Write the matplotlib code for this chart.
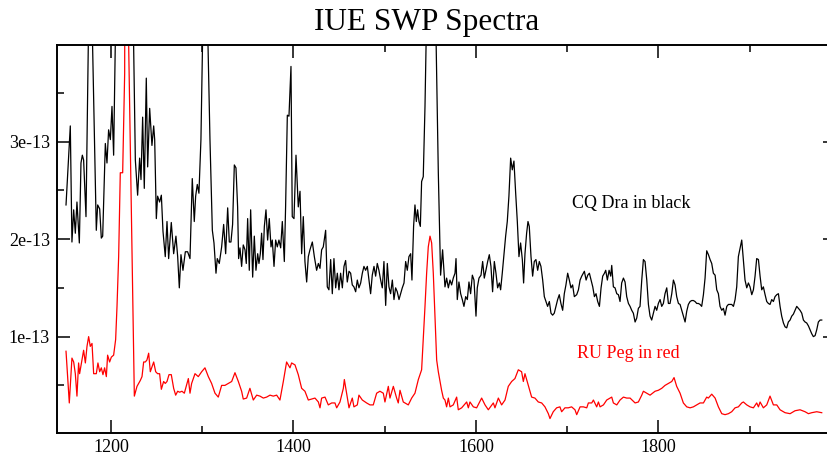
import matplotlib
matplotlib.use("Agg")
import matplotlib.pyplot as plt
from matplotlib.ticker import FixedLocator, FuncFormatter

# CQ Dra (black) - wavelength in Angstrom, flux in 1e-13 units
cq_wave = [1150.7, 1155.4, 1157.2, 1159.1, 1160.9, 1162.7, 1165.3, 1167.1, 1168.6, 1170.0,
           1172.6, 1177.0, 1183.9, 1185.4, 1187.6, 1189.4, 1190.9, 1193.8, 1195.6, 1197.4,
           1199.3, 1201.1, 1202.9, 1205.5, 1215.5, 1224.0, 1226.7, 1229.2, 1231.4, 1232.9,
           1234.7, 1236.5, 1238.7, 1240.2, 1242.4, 1244.9, 1246.8, 1247.9, 1249.7, 1251.1,
           1253.3, 1255.2, 1257.0, 1259.5, 1261.4, 1263.2, 1266.1, 1268.7, 1271.2, 1273.1,
           1274.9, 1276.7, 1278.9, 1281.5, 1284.0, 1286.6, 1289.1, 1291.3, 1292.8, 1294.6,
           1296.4, 1298.6, 1303.0, 1308.5, 1311.1, 1312.9, 1315.1, 1316.5, 1318.7, 1321.3,
           1323.5, 1325.7, 1327.9, 1329.7, 1331.5, 1333.3, 1335.2, 1337.0, 1338.8, 1339.9,
           1341.4, 1343.2, 1345.0, 1346.9, 1348.3, 1349.8, 1351.6, 1353.1, 1355.3, 1357.1,
           1358.9, 1360.8, 1362.2, 1363.7, 1365.1, 1366.6, 1368.1, 1369.9, 1371.7, 1373.5,
           1375.4, 1376.8, 1378.7, 1380.5, 1382.3, 1384.1, 1386.0, 1387.8, 1390.0, 1391.4,
           1393.3, 1395.1, 1397.3, 1398.7, 1400.6, 1402.8, 1405.3, 1407.2, 1409.0, 1410.8,
           1412.6, 1414.5, 1416.3, 1418.1, 1420.7, 1422.9, 1425.4, 1427.3, 1429.1, 1430.9,
           1432.7, 1435.3, 1437.1, 1438.9, 1440.8, 1442.6, 1444.4, 1446.3, 1448.1, 1449.9,
           1451.7, 1453.6, 1455.4, 1457.2, 1459.0, 1460.9, 1462.7, 1464.5, 1466.3, 1468.2,
           1470.0, 1471.8, 1473.7, 1475.5, 1477.3, 1479.1, 1481.0, 1482.8, 1484.6, 1486.4,
           1488.3, 1490.1, 1491.9, 1493.7, 1495.6, 1497.4, 1499.2, 1501.1, 1502.9, 1504.7,
           1506.5, 1508.4, 1510.2, 1512.0, 1513.8, 1515.7, 1517.5, 1519.3, 1521.2, 1523.0,
           1524.8, 1526.6, 1528.5, 1529.9, 1531.7, 1533.2, 1534.7, 1536.1, 1537.6, 1539.1,
           1540.5, 1542.3, 1544.2, 1551.0, 1558.8, 1561.3, 1563.5, 1566.1, 1567.9, 1569.8,
           1571.6, 1573.4, 1575.2, 1577.1, 1578.2, 1579.6, 1581.4, 1583.3, 1585.1, 1586.9,
           1588.8, 1590.6, 1592.4, 1594.2, 1596.1, 1597.9, 1600.1, 1601.5, 1603.4, 1605.6,
           1607.4, 1609.2, 1611.0, 1612.9, 1614.7, 1616.5, 1618.3, 1620.2, 1622.0, 1623.8,
           1625.7, 1627.1, 1628.9, 1630.8, 1632.6, 1634.4, 1636.2, 1638.1, 1639.9, 1641.7,
           1643.6, 1645.4, 1647.2, 1649.0, 1650.9, 1652.3, 1653.8, 1655.6, 1657.1, 1658.5,
           1660.4, 1662.2, 1664.0, 1665.8, 1667.7, 1669.5, 1671.3, 1673.2, 1675.0, 1676.8,
           1678.6, 1680.5, 1682.3, 1684.1, 1685.9, 1687.8, 1689.6, 1691.4, 1693.2, 1695.1,
           1696.9, 1698.7, 1700.6, 1702.4, 1704.2, 1706.0, 1707.9, 1710.5, 1712.4, 1714.2,
           1716.0, 1717.8, 1718.9, 1720.8, 1722.6, 1724.4, 1726.2, 1728.1, 1729.9, 1731.7,
           1733.5, 1735.4, 1737.2, 1739.0, 1740.9, 1742.3, 1744.1, 1746.0, 1747.8, 1748.9,
           1750.7, 1752.5, 1754.4, 1756.2, 1758.0, 1759.8, 1761.7, 1763.5, 1765.3, 1767.2,
           1769.0, 1770.8, 1772.6, 1774.5, 1776.3, 1778.1, 1779.9, 1781.8, 1783.6, 1785.4,
           1787.3, 1789.1, 1790.9, 1792.7, 1794.6, 1796.4, 1798.2, 1800.0, 1801.9, 1803.7,
           1805.5, 1807.3, 1809.2, 1811.0, 1812.8, 1814.7, 1816.5, 1818.3, 1820.1, 1822.0,
           1823.8, 1825.6, 1827.4, 1829.3, 1831.1, 1832.9, 1834.8, 1836.6, 1838.4, 1840.2,
           1842.1, 1843.9, 1845.7, 1847.5, 1849.4, 1851.2, 1853.0, 1854.9, 1856.7, 1858.5,
           1860.3, 1862.2, 1864.0, 1865.8, 1867.6, 1869.5, 1871.3, 1873.1, 1875.0, 1876.8,
           1878.6, 1880.4, 1882.3, 1884.1, 1885.9, 1887.7, 1889.6, 1891.4, 1893.2, 1895.0,
           1896.9, 1898.7, 1900.5, 1902.4, 1904.2, 1906.0, 1907.8, 1909.7, 1911.5, 1913.3,
           1915.1, 1917.0, 1918.8, 1920.6, 1922.4, 1924.3, 1926.1, 1927.9, 1929.8, 1931.6,
           1933.4, 1935.2, 1937.1, 1938.9, 1940.7, 1942.5, 1944.4, 1946.2, 1948.0, 1949.8,
           1951.7, 1953.5, 1955.3, 1957.2, 1959.0, 1960.8, 1962.6, 1964.5, 1966.3, 1968.1,
           1969.9, 1971.8, 1973.6, 1975.4, 1977.3, 1979.1]
cq_flux = [2.35, 3.16, 1.97, 2.30, 2.06, 2.38, 1.96, 2.78, 2.86, 2.81,
           2.23, 5.30, 2.09, 2.35, 2.31, 2.01, 2.03, 2.98, 2.78, 3.12,
           3.02, 3.36, 2.86, 4.50, 12.0, 4.50, 2.81, 2.45, 2.83, 2.61,
           3.25, 2.52, 3.65, 2.74, 3.34, 2.96, 3.16, 3.02, 2.21, 2.44,
           2.38, 2.45, 2.08, 1.82, 2.18, 1.80, 2.17, 1.85, 2.03, 1.82,
           1.50, 1.84, 1.68, 1.87, 1.87, 1.80, 2.62, 2.18, 2.44, 2.56,
           2.47, 3.02, 5.50, 3.02, 2.09, 1.96, 1.65, 1.80, 1.75, 1.92,
           2.15, 1.85, 2.32, 1.97, 1.97, 2.15, 2.76, 2.73, 2.33, 1.80,
           1.91, 1.72, 1.94, 1.89, 1.75, 2.21, 1.68, 2.30, 1.61, 2.03,
           1.68, 1.85, 1.75, 1.85, 2.06, 1.79, 2.13, 2.30, 1.99, 2.21,
           1.92, 1.99, 1.72, 1.99, 1.92, 1.99, 1.91, 2.18, 1.77, 2.33,
           3.27, 3.26, 3.77, 2.23, 2.21, 2.86, 2.33, 2.49, 1.85, 2.23,
           1.77, 1.56, 1.82, 1.89, 1.97, 1.82, 1.68, 1.75, 1.70, 1.89,
           1.92, 2.09, 1.51, 1.48, 1.79, 1.44, 1.80, 1.50, 1.65, 1.48,
           1.65, 1.50, 1.72, 1.78, 1.56, 1.67, 1.65, 1.53, 1.51, 1.46,
           1.58, 1.50, 1.55, 1.65, 1.72, 1.68, 1.72, 1.58, 1.44, 1.63,
           1.72, 1.62, 1.75, 1.68, 1.58, 1.50, 1.77, 1.32, 1.75, 1.51,
           1.44, 1.58, 1.38, 1.50, 1.46, 1.38, 1.44, 1.50, 1.55, 1.77,
           1.68, 1.82, 1.85, 1.58, 2.13, 2.35, 2.18, 2.30, 2.18, 2.13,
           2.59, 2.64, 3.36, 7.00, 2.68, 1.63, 1.89, 1.51, 1.60, 1.50,
           1.58, 1.53, 1.60, 1.65, 1.80, 1.38, 1.56, 1.44, 1.38, 1.31,
           1.41, 1.38, 1.56, 1.44, 1.63, 1.58, 1.21, 1.50, 1.60, 1.63,
           1.77, 1.60, 1.68, 1.77, 1.84, 1.72, 1.46, 1.77, 1.65, 1.50,
           1.55, 1.48, 1.65, 1.85, 2.03, 2.18, 2.44, 2.83, 2.71, 2.80,
           2.47, 2.18, 1.82, 1.96, 1.79, 1.55, 1.85, 2.06, 2.18, 2.13,
           1.82, 1.62, 1.77, 1.79, 1.68, 1.77, 1.72, 1.58, 1.41, 1.36,
           1.31, 1.36, 1.24, 1.22, 1.24, 1.31, 1.38, 1.43, 1.34, 1.27,
           1.44, 1.53, 1.65, 1.58, 1.50, 1.53, 1.41, 1.43, 1.48, 1.58,
           1.62, 1.65, 1.67, 1.58, 1.63, 1.65, 1.58, 1.51, 1.41, 1.44,
           1.36, 1.31, 1.50, 1.62, 1.65, 1.68, 1.58, 1.68, 1.62, 1.73,
           1.51, 1.50, 1.44, 1.43, 1.36, 1.55, 1.60, 1.56, 1.41, 1.34,
           1.31, 1.27, 1.24, 1.15, 1.19, 1.29, 1.31, 1.58, 1.79, 1.77,
           1.58, 1.33, 1.21, 1.17, 1.24, 1.31, 1.27, 1.34, 1.38, 1.31,
           1.34, 1.44, 1.50, 1.34, 1.34, 1.44, 1.58, 1.53, 1.41, 1.34,
           1.33, 1.27, 1.21, 1.15, 1.26, 1.33, 1.36, 1.37, 1.37, 1.36,
           1.34, 1.34, 1.33, 1.31, 1.43, 1.60, 1.88, 1.84, 1.79, 1.75,
           1.65, 1.63, 1.48, 1.44, 1.31, 1.27, 1.29, 1.22, 1.31, 1.33,
           1.33, 1.33, 1.31, 1.38, 1.51, 1.82, 1.91, 1.99, 1.79, 1.58,
           1.50, 1.55, 1.51, 1.43, 1.48, 1.62, 1.80, 1.79, 1.62, 1.48,
           1.51, 1.43, 1.36, 1.34, 1.33, 1.38, 1.36, 1.41, 1.43, 1.44,
           1.31, 1.21, 1.14, 1.10, 1.09, 1.15, 1.17, 1.21, 1.23, 1.27,
           1.31, 1.29, 1.27, 1.24, 1.17, 1.15, 1.14, 1.11, 1.07, 1.03,
           1.00, 1.01, 1.07, 1.15, 1.17, 1.17]

# RU Peg (red)
ru_wave = [1150.7, 1154.3, 1157.2, 1159.1, 1160.9, 1162.7, 1164.5, 1165.6, 1168.2, 1170.0,
           1171.9, 1173.7, 1175.5, 1177.3, 1179.2, 1181.0, 1183.9, 1185.7, 1187.6, 1189.4,
           1191.2, 1193.0, 1194.9, 1196.3, 1198.5, 1200.4, 1202.9, 1205.1, 1206.6, 1208.4,
           1210.2, 1212.8, 1215.0, 1217.2, 1219.2, 1225.6, 1228.5, 1232.1, 1234.0, 1235.8,
           1237.6, 1239.4, 1241.3, 1243.1, 1246.8, 1249.0, 1251.1, 1253.3, 1255.2, 1257.7,
           1259.5, 1261.4, 1263.6, 1266.1, 1268.7, 1270.9, 1273.1, 1275.3, 1277.8, 1280.4,
           1284.8, 1286.6, 1288.4, 1292.1, 1295.7, 1299.4, 1303.0, 1306.7, 1310.3, 1314.0,
           1317.6, 1321.3, 1324.9, 1328.6, 1332.3, 1335.9, 1339.6, 1343.2, 1345.0, 1348.7,
           1352.3, 1356.0, 1359.7, 1363.3, 1367.0, 1370.6, 1374.3, 1377.9, 1381.6, 1385.2,
           1388.9, 1392.5, 1396.2, 1398.0, 1401.7, 1405.3, 1409.0, 1412.6, 1416.3, 1420.0,
           1423.6, 1427.3, 1429.1, 1430.9, 1434.6, 1438.2, 1441.9, 1445.5, 1447.4, 1451.0,
           1454.7, 1455.8, 1458.3, 1460.9, 1464.5, 1466.3, 1470.0, 1471.8, 1475.5, 1480.2,
           1483.9, 1487.5, 1491.2, 1494.8, 1498.5, 1500.3, 1504.0, 1505.8, 1509.5, 1513.1,
           1514.9, 1516.8, 1520.4, 1525.9, 1529.6, 1533.2, 1536.9, 1540.5, 1542.3, 1544.2,
           1546.0, 1547.8, 1549.7, 1551.5, 1553.3, 1555.1, 1557.0, 1558.8, 1562.4, 1564.3,
           1566.1, 1567.9, 1569.8, 1571.6, 1575.2, 1578.9, 1580.7, 1584.4, 1589.9, 1591.7,
           1593.5, 1597.2, 1600.8, 1606.3, 1610.0, 1613.6, 1619.1, 1620.9, 1624.6, 1628.2,
           1631.9, 1635.5, 1639.2, 1642.8, 1646.5, 1650.1, 1652.0, 1653.8, 1657.4, 1661.1,
           1664.7, 1668.4, 1672.1, 1675.7, 1679.4, 1681.2, 1684.8, 1688.5, 1692.1, 1694.0,
           1697.6, 1701.3, 1704.9, 1708.6, 1710.5, 1714.2, 1717.8, 1721.5, 1723.3, 1727.0,
           1728.8, 1732.4, 1734.3, 1736.1, 1739.8, 1743.4, 1748.9, 1750.7, 1754.4, 1758.0,
           1761.7, 1765.3, 1769.0, 1774.5, 1778.1, 1781.8, 1783.6, 1787.3, 1790.9, 1796.4,
           1800.0, 1803.7, 1807.3, 1811.0, 1814.7, 1817.2, 1820.1, 1823.8, 1827.4, 1831.1,
           1834.8, 1838.4, 1842.1, 1845.7, 1849.4, 1853.0, 1854.8, 1858.5, 1862.2, 1865.8,
           1869.5, 1873.1, 1876.8, 1880.4, 1884.1, 1887.7, 1891.4, 1893.2, 1896.9, 1900.5,
           1904.2, 1907.8, 1909.7, 1911.5, 1915.1, 1918.8, 1922.4, 1926.1, 1929.8, 1933.4,
           1938.9, 1944.4, 1949.8, 1955.3, 1960.8, 1964.5, 1968.1, 1973.6, 1979.1]
ru_flux = [0.85, 0.32, 0.78, 0.74, 0.62, 0.39, 0.73, 0.62, 0.76, 0.86,
           0.73, 0.90, 1.00, 0.90, 0.93, 0.62, 0.62, 0.73, 0.64, 0.68,
           0.61, 0.68, 0.59, 0.81, 0.74, 0.79, 0.81, 0.97, 1.31, 1.82,
           2.68, 2.68, 3.70, 15.0, 4.10, 0.39, 0.49, 0.55, 0.59, 0.74,
           0.74, 0.76, 0.83, 0.64, 0.74, 0.64, 0.62, 0.62, 0.46, 0.54,
           0.52, 0.54, 0.61, 0.61, 0.47, 0.40, 0.44, 0.43, 0.44, 0.42,
           0.57, 0.42, 0.52, 0.62, 0.59, 0.64, 0.68, 0.59, 0.52, 0.42,
           0.38, 0.50, 0.50, 0.52, 0.54, 0.63, 0.54, 0.44, 0.36, 0.37,
           0.47, 0.35, 0.40, 0.39, 0.37, 0.38, 0.40, 0.39, 0.40, 0.35,
           0.54, 0.74, 0.68, 0.73, 0.71, 0.61, 0.47, 0.44, 0.35, 0.36,
           0.37, 0.33, 0.27, 0.37, 0.38, 0.30, 0.32, 0.32, 0.27, 0.33,
           0.47, 0.56, 0.42, 0.27, 0.37, 0.28, 0.30, 0.40, 0.35, 0.32,
           0.30, 0.30, 0.42, 0.44, 0.42, 0.33, 0.49, 0.37, 0.49, 0.37,
           0.32, 0.45, 0.33, 0.30, 0.37, 0.42, 0.56, 0.66, 0.97, 1.31,
           1.65, 1.92, 2.03, 1.96, 1.65, 1.21, 0.76, 0.64, 0.45, 0.37,
           0.35, 0.28, 0.37, 0.28, 0.30, 0.38, 0.25, 0.27, 0.33, 0.27,
           0.33, 0.28, 0.27, 0.37, 0.30, 0.25, 0.32, 0.27, 0.37, 0.30,
           0.35, 0.49, 0.54, 0.57, 0.66, 0.64, 0.54, 0.62, 0.50, 0.38,
           0.37, 0.33, 0.32, 0.28, 0.21, 0.16, 0.23, 0.27, 0.28, 0.23,
           0.27, 0.27, 0.28, 0.25, 0.20, 0.28, 0.28, 0.27, 0.32, 0.32,
           0.35, 0.28, 0.33, 0.28, 0.30, 0.35, 0.38, 0.32, 0.30, 0.35,
           0.38, 0.37, 0.37, 0.32, 0.33, 0.40, 0.44, 0.42, 0.40, 0.44,
           0.45, 0.47, 0.50, 0.52, 0.54, 0.58, 0.49, 0.42, 0.32, 0.28,
           0.27, 0.28, 0.30, 0.32, 0.32, 0.38, 0.37, 0.41, 0.37, 0.28,
           0.21, 0.20, 0.21, 0.23, 0.27, 0.28, 0.32, 0.33, 0.30, 0.28,
           0.27, 0.32, 0.28, 0.33, 0.27, 0.30, 0.39, 0.30, 0.30, 0.25,
           0.22, 0.21, 0.24, 0.25, 0.23, 0.21, 0.22, 0.23, 0.22]

unit = 1e-13
x_major = [1200, 1400, 1600, 1800]
x_minor = [1300, 1500, 1700, 1900]
y_major = [1, 2, 3]
y_minor = [0.5, 1.5, 2.5, 3.5]

serif = ["Liberation Serif", "DejaVu Serif"]
plt.rcParams["font.family"] = serif

fig = plt.figure(figsize=(8.27, 4.57), dpi=100)
# right frame edge sits just outside the picture, as in the original
ax = fig.add_axes([0.0689, 0.0536, 0.9414, 0.848])

ax.plot(cq_wave, [v * unit for v in cq_flux], color="black", lw=0.9)
ax.plot(ru_wave, [v * unit for v in ru_flux], color="red", lw=0.9)

ax.set_xlim(1140.8, 1994.2)
ax.set_ylim(0.017 * unit, 3.99 * unit)

ax.xaxis.set_major_locator(FixedLocator(x_major))
ax.xaxis.set_minor_locator(FixedLocator(x_minor))
ax.yaxis.set_major_locator(FixedLocator([v * unit for v in y_major]))
ax.yaxis.set_minor_locator(FixedLocator([v * unit for v in y_minor]))
ax.yaxis.set_major_formatter(FuncFormatter(lambda v, p: f"{v:.0e}"))

ax.tick_params(which="both", direction="in", top=True, right=True, width=1.1)
ax.tick_params(which="major", length=9.5, labelsize=13, pad=5)
ax.tick_params(which="minor", length=5)
for s in ax.spines.values():
    s.set_linewidth(1.4)

ax.text(1705.0, 2.317 * unit, "CQ Dra in black", fontsize=13, color="black")
ax.text(1710.5, 0.778 * unit, "RU Peg in red", fontsize=13, color="red")

fig.text(0.5157, 0.9344, "IUE SWP Spectra", fontsize=22.5, ha="center", va="baseline")

fig.savefig("out.png", dpi=100)
